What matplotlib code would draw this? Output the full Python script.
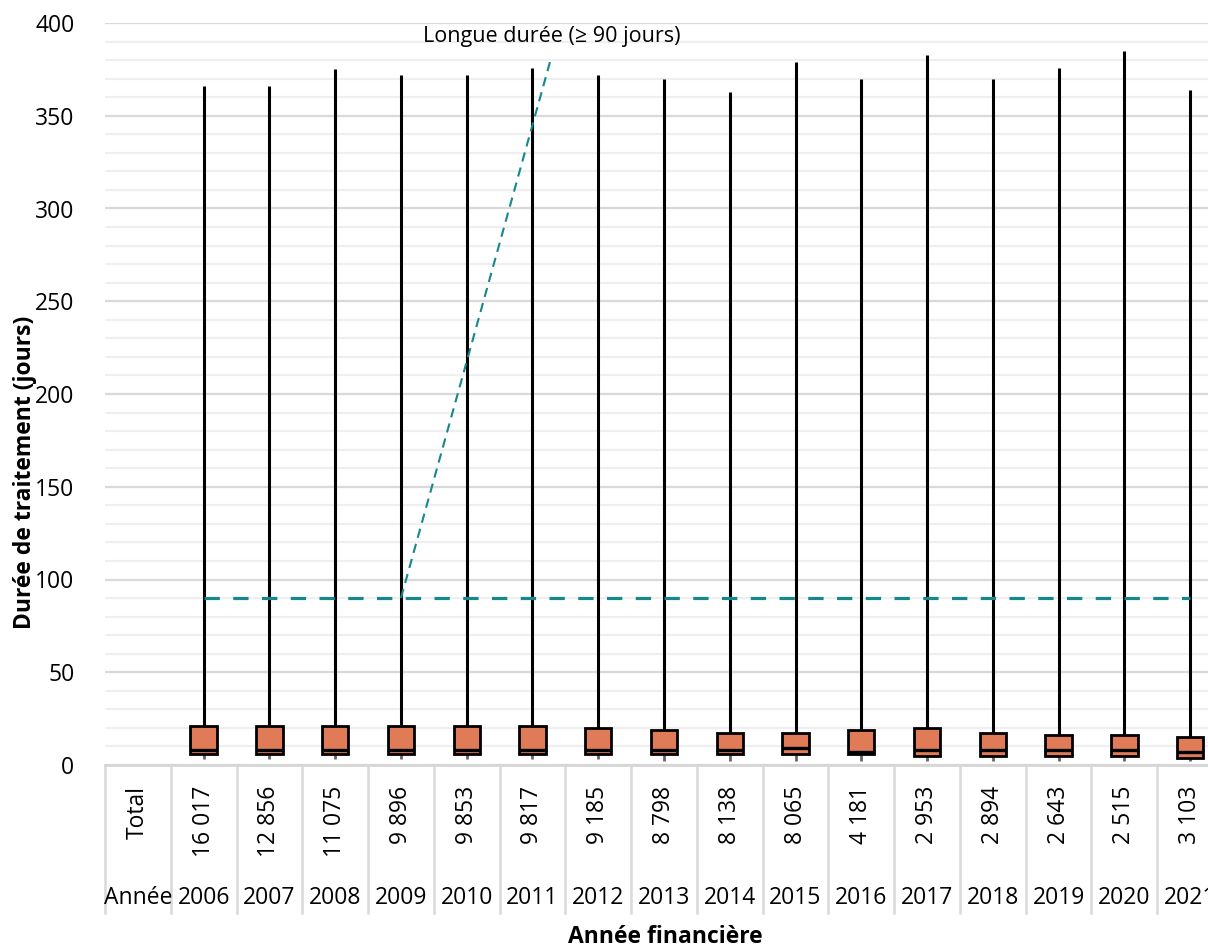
import matplotlib
matplotlib.use("Agg")
import matplotlib.pyplot as plt
from matplotlib.transforms import blended_transform_factory

plt.rcParams['font.family'] = ['Open Sans', 'DejaVu Sans']

# Fiscal years and number of treatments per year
years = ["2006", "2007", "2008", "2009", "2010", "2011", "2012", "2013",
         "2014", "2015", "2016", "2017", "2018", "2019", "2020", "2021"]
counts = ["16 017", "12 856", "11 075", "9 896", "9 853", "9 817", "9 185", "8 798",
          "8 138", "8 065", "4 181", "2 953", "2 894", "2 643", "2 515", "3 103"]

# Treatment duration distribution (days)
whis_low = [3, 3, 3, 3, 3, 3, 3, 2, 2, 2, 2, 2, 2, 2, 2, 2]
q1 = [6, 6, 6, 6, 6, 6, 6, 6, 6, 6, 6, 5, 5, 5, 5, 4]
median = [8, 8, 8, 8, 8, 8, 8, 8, 8, 9, 7, 8, 8, 8, 8, 7]
q3 = [21, 21, 21, 21, 21, 21, 20, 19, 17, 17, 19, 20, 17, 16, 16, 15]
whis_high = [366, 366, 375, 372, 372, 376, 372, 370, 363, 379, 370, 383, 370, 376, 385, 364]

long_threshold = 90
long_label = "Longue durée (≥ 90 jours)"

W, H = 1208, 947
fig = plt.figure(figsize=(W / 100, H / 100), dpi=100)
ax_left, ax_right, ax_top, ax_bottom = 105, 1223, 23, 765
ax = fig.add_axes([ax_left / W, 1 - ax_bottom / H,
                   (ax_right - ax_left) / W, (ax_bottom - ax_top) / H])

box_color = "#e07b58"
teal = "#16878a"
fs = 16.5

ax.set_xlim(-0.5, 16.5)
ax.set_ylim(0, 400)

# grid
ax.set_yticks(range(0, 401, 50))
ax.set_yticks(range(0, 401, 10), minor=True)
ax.grid(axis="y", which="major", color="#d9d9d9", lw=1.6, zorder=0)
ax.grid(axis="y", which="minor", color="#efefef", lw=1.6, zorder=0)
ax.tick_params(axis="y", which="both", length=0, labelsize=fs, pad=22)
ax.tick_params(axis="x", which="both", length=0, labelbottom=False)
for s in ["top", "right", "left"]:
    ax.spines[s].set_visible(False)
ax.spines["bottom"].set_color("#d6d6d6")
ax.spines["bottom"].set_linewidth(2)
ax.set_axisbelow(True)

positions = list(range(1, len(years) + 1))

# lower whiskers (thin grey stubs)
ax.vlines(positions, whis_low, q1, color="#666666", lw=2, zorder=2)
# upper whiskers
ax.vlines(positions, q3, whis_high, color="black", lw=2.2, zorder=2)

stats = [dict(med=m, q1=a, q3=b, whislo=b, whishi=b, fliers=[])
         for m, a, b in zip(median, q1, q3)]
ax.bxp(stats, positions=positions, widths=0.4, patch_artist=True,
       showcaps=False, showfliers=False,
       boxprops=dict(facecolor=box_color, edgecolor="black", linewidth=2),
       medianprops=dict(color="black", linewidth=2.4),
       whiskerprops=dict(linewidth=0),
       manage_ticks=False, zorder=3)

# 90-day threshold line
ax.plot([positions[0], positions[-1]], [long_threshold, long_threshold],
        color=teal, lw=2.3, linestyle=(0, (4.8, 4.2)), zorder=4)
# leader line to the annotation
ax.plot([4, 6.29], [long_threshold, 382], color=teal, lw=1.5,
        linestyle=(0, (4.5, 3.0)), zorder=4)
ax.text(6.29, 392.5, long_label, ha="center", va="center", fontsize=15.5,
        clip_on=False)

# category table under the axis
trans = blended_transform_factory(ax.transData, ax.transAxes)
axh = ax_bottom - ax_top
sep_bottom = -(913 - ax_bottom) / axh
for k in range(len(years) + 2):
    ax.plot([k - 0.5, k - 0.5], [0, sep_bottom], transform=trans,
            color="#d9d9d9", lw=1.8, clip_on=False)

count_y = -(786 - ax_bottom) / axh
year_y = -(898 - ax_bottom) / axh
ax.text(0, count_y, "Total", transform=trans, rotation=90, ha="center",
        va="top", fontsize=fs)
ax.text(0, year_y, "Année", transform=trans, ha="center", va="center",
        fontsize=fs)
for p, c, y in zip(positions, counts, years):
    ax.text(p, count_y, c, transform=trans, rotation=90, ha="center",
            va="top", fontsize=fs)
    ax.text(p, year_y, y, transform=trans, ha="center", va="center",
            fontsize=fs)

fig.text(665 / W, 1 - 937 / H, "Année financière",
         ha="center", va="center", fontsize=fs, fontweight="bold")
fig.text(25 / W, 1 - 472 / H,
         "Durée de traitement (jours)", rotation=90, ha="center",
         va="center", fontsize=fs, fontweight="bold")

fig.savefig("out.png", dpi=100)
